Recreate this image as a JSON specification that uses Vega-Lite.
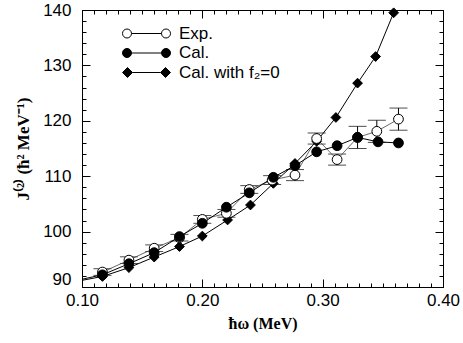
{
  "$schema": "https://vega.github.io/schema/vega-lite/v6.json",
  "width": 361,
  "height": 277,
  "autosize": "none",
  "padding": {"left": 82, "top": 10, "right": 20, "bottom": 56},
  "background": "white",
  "config": {
    "view": {"stroke": null},
    "font": "Liberation Sans",
    "axis": {
      "grid": false,
      "labelFlush": false,
      "domainColor": "black",
      "tickColor": "black",
      "labelColor": "black",
      "titleColor": "black",
      "labelFont": "Liberation Sans",
      "labelFontSize": 17,
      "titleFont": "Liberation Serif",
      "titleFontWeight": "bold",
      "titleFontSize": 16,
      "tickWidth": 1,
      "domainWidth": 1
    }
  },
  "datasets": {
    "all": [
      {"series": "Cal. with f₂=0", "x": 0.100, "y": 91.2},
      {"series": "Cal. with f₂=0", "x": 0.117, "y": 91.9},
      {"series": "Cal. with f₂=0", "x": 0.139, "y": 93.5},
      {"series": "Cal. with f₂=0", "x": 0.160, "y": 95.4},
      {"series": "Cal. with f₂=0", "x": 0.181, "y": 97.3},
      {"series": "Cal. with f₂=0", "x": 0.200, "y": 99.2},
      {"series": "Cal. with f₂=0", "x": 0.221, "y": 102.1},
      {"series": "Cal. with f₂=0", "x": 0.240, "y": 104.8},
      {"series": "Cal. with f₂=0", "x": 0.259, "y": 108.7},
      {"series": "Cal. with f₂=0", "x": 0.277, "y": 112.3},
      {"series": "Cal. with f₂=0", "x": 0.295, "y": 116.3},
      {"series": "Cal. with f₂=0", "x": 0.311, "y": 120.6},
      {"series": "Cal. with f₂=0", "x": 0.329, "y": 126.8},
      {"series": "Cal. with f₂=0", "x": 0.344, "y": 131.6},
      {"series": "Cal. with f₂=0", "x": 0.359, "y": 139.5},
      {"series": "Exp.", "x": 0.117, "y": 92.7, "err": 0.6},
      {"series": "Exp.", "x": 0.139, "y": 94.85, "err": 0.6},
      {"series": "Exp.", "x": 0.160, "y": 97.0, "err": 0.6},
      {"series": "Exp.", "x": 0.181, "y": 98.9, "err": 0.6},
      {"series": "Exp.", "x": 0.200, "y": 102.2, "err": 0.7},
      {"series": "Exp.", "x": 0.220, "y": 103.3, "err": 0.7},
      {"series": "Exp.", "x": 0.239, "y": 107.6, "err": 0.7},
      {"series": "Exp.", "x": 0.258, "y": 109.3, "err": 0.8},
      {"series": "Exp.", "x": 0.277, "y": 110.2, "err": 1.0},
      {"series": "Exp.", "x": 0.295, "y": 116.8, "err": 1.0},
      {"series": "Exp.", "x": 0.312, "y": 113.0, "err": 1.0},
      {"series": "Exp.", "x": 0.329, "y": 117.0, "err": 2.0},
      {"series": "Exp.", "x": 0.345, "y": 118.1, "err": 2.0},
      {"series": "Exp.", "x": 0.363, "y": 120.3, "err": 2.0},
      {"series": "Cal.", "x": 0.100, "y": 91.4},
      {"series": "Cal.", "x": 0.117, "y": 92.2},
      {"series": "Cal.", "x": 0.139, "y": 94.2},
      {"series": "Cal.", "x": 0.160, "y": 96.2},
      {"series": "Cal.", "x": 0.181, "y": 99.1},
      {"series": "Cal.", "x": 0.200, "y": 101.5},
      {"series": "Cal.", "x": 0.220, "y": 104.4},
      {"series": "Cal.", "x": 0.239, "y": 107.0},
      {"series": "Cal.", "x": 0.259, "y": 109.8},
      {"series": "Cal.", "x": 0.277, "y": 111.9},
      {"series": "Cal.", "x": 0.295, "y": 114.4},
      {"series": "Cal.", "x": 0.312, "y": 115.5},
      {"series": "Cal.", "x": 0.329, "y": 117.0},
      {"series": "Cal.", "x": 0.346, "y": 116.2},
      {"series": "Cal.", "x": 0.363, "y": 116.0}
    ]
  },
  "data": {"name": "all"},
  "resolve": {
    "axis": {"x": "independent", "y": "independent"},
    "scale": {"shape": "independent", "fill": "independent", "size": "independent"}
  },
  "layer": [
    {
      "transform": [{"filter": "datum.series === 'Cal. with f₂=0'"}],
      "mark": {"type": "line", "color": "black", "strokeWidth": 1},
      "encoding": {
        "x": {"field": "x", "type": "quantitative", "scale": {"domain": [0.1, 0.4], "nice": false, "zero": false},
          "axis": {"orient": "bottom", "values": [0.1, 0.2, 0.3, 0.4], "format": ".2f", "tickSize": -8, "labelPadding": 13,
            "title": "ħω  (MeV)", "titlePadding": 7}},
        "y": {"field": "y", "type": "quantitative", "scale": {"domain": [90, 140], "nice": false, "zero": false},
          "axis": {"orient": "left", "values": [90, 100, 110, 120, 130, 140], "tickSize": -8, "labelPadding": 19,
            "labelOffset": {"condition": {"test": "datum.value < 95", "value": -8}, "value": 0},
            "title": "J⁽²⁾ (ħ² MeV⁻¹)", "titleFontSize": 17, "titlePadding": 10}}
      }
    },
    {
      "transform": [{"filter": "datum.series === 'Exp.'"}],
      "mark": {"type": "errorbar", "color": "black", "thickness": 1, "ticks": {"size": 18, "color": "black", "thickness": 1}},
      "encoding": {
        "x": {"field": "x", "type": "quantitative", "scale": {"domain": [0.1, 0.4], "nice": false, "zero": false},
          "axis": {"orient": "bottom", "values": [0.1, 0.11, 0.12, 0.13, 0.14, 0.15, 0.16, 0.17, 0.18, 0.19, 0.2, 0.21, 0.22, 0.23, 0.24, 0.25, 0.26, 0.27, 0.28, 0.29, 0.3, 0.31, 0.32, 0.33, 0.34, 0.35, 0.36, 0.37, 0.38, 0.39, 0.4], "tickSize": -4, "labels": false, "domain": false, "title": null}},
        "y": {"field": "y", "type": "quantitative", "scale": {"domain": [90, 140], "nice": false, "zero": false},
          "axis": {"orient": "left", "values": [90, 92, 94, 96, 98, 100, 102, 104, 106, 108, 110, 112, 114, 116, 118, 120, 122, 124, 126, 128, 130, 132, 134, 136, 138, 140], "tickSize": -4, "labels": false, "domain": false, "title": null}},
        "yError": {"field": "err"}
      }
    },
    {
      "transform": [{"filter": "datum.series === 'Exp.'"}],
      "mark": {"type": "line", "color": "#444444", "strokeWidth": 0.8},
      "encoding": {
        "x": {"field": "x", "type": "quantitative", "scale": {"domain": [0.1, 0.4], "nice": false, "zero": false},
          "axis": {"orient": "top", "values": [0.1, 0.2, 0.3, 0.4], "tickSize": -8, "labels": false, "title": null}},
        "y": {"field": "y", "type": "quantitative", "scale": {"domain": [90, 140], "nice": false, "zero": false},
          "axis": {"orient": "right", "values": [90, 100, 110, 120, 130, 140], "tickSize": -8, "labels": false, "title": null}}
      }
    },
    {
      "transform": [{"filter": "datum.series === 'Cal.'"}],
      "mark": {"type": "line", "color": "black", "strokeWidth": 1},
      "encoding": {
        "x": {"field": "x", "type": "quantitative", "scale": {"domain": [0.1, 0.4], "nice": false, "zero": false},
          "axis": {"orient": "top", "values": [0.1, 0.11, 0.12, 0.13, 0.14, 0.15, 0.16, 0.17, 0.18, 0.19, 0.2, 0.21, 0.22, 0.23, 0.24, 0.25, 0.26, 0.27, 0.28, 0.29, 0.3, 0.31, 0.32, 0.33, 0.34, 0.35, 0.36, 0.37, 0.38, 0.39, 0.4], "tickSize": -4, "labels": false, "domain": false, "title": null}},
        "y": {"field": "y", "type": "quantitative", "scale": {"domain": [90, 140], "nice": false, "zero": false},
          "axis": {"orient": "right", "values": [90, 92, 94, 96, 98, 100, 102, 104, 106, 108, 110, 112, 114, 116, 118, 120, 122, 124, 126, 128, 130, 132, 134, 136, 138, 140], "tickSize": -4, "labels": false, "domain": false, "title": null}}
      }
    },
    {
      "transform": [{"filter": "datum.x > 0.105"}],
      "mark": {"type": "point", "filled": true, "stroke": "black", "strokeWidth": 1, "opacity": 1},
      "encoding": {
        "x": {"field": "x", "type": "quantitative", "scale": {"domain": [0.1, 0.4], "nice": false, "zero": false}, "axis": null},
        "y": {"field": "y", "type": "quantitative", "scale": {"domain": [90, 140], "nice": false, "zero": false}, "axis": null},
        "shape": {"field": "series", "type": "nominal",
          "scale": {"domain": ["Exp.", "Cal.", "Cal. with f₂=0"], "range": ["circle", "circle", "diamond"]}, "legend": null},
        "fill": {"field": "series", "type": "nominal",
          "scale": {"domain": ["Exp.", "Cal.", "Cal. with f₂=0"], "range": ["white", "black", "black"]}, "legend": null},
        "size": {"field": "series", "type": "nominal",
          "scale": {"domain": ["Exp.", "Cal.", "Cal. with f₂=0"], "range": [95, 95, 85]}, "legend": null}
      }
    },
    {
      "transform": [{"filter": "datum.x < 0"}],
      "mark": {"type": "point", "filled": true, "stroke": "black", "strokeWidth": 1, "opacity": 1},
      "encoding": {
        "shape": {"field": "series", "type": "nominal",
          "scale": {"domain": ["Exp.", "Cal.", "Cal. with f₂=0"],
            "range": [
              "M-4.8,0a0.9,0.9 0 1,0 1.8,0a0.9,0.9 0 1,0 -1.8,0Z M3,0a0.9,0.9 0 1,0 1.8,0a0.9,0.9 0 1,0 -1.8,0Z M-3,0L3,0",
              "M-4.8,0a0.9,0.9 0 1,0 1.8,0a0.9,0.9 0 1,0 -1.8,0Z M3,0a0.9,0.9 0 1,0 1.8,0a0.9,0.9 0 1,0 -1.8,0Z M-3,0L3,0",
              "M-4.8,0L-3.8,-1L-2.8,0L-3.8,1Z M2.8,0L3.8,-1L4.8,0L3.8,1Z M-2.8,0L2.8,0"
            ]},
          "legend": {
            "title": null, "orient": "none", "legendX": 56, "legendY": 15, "padding": 0,
            "labelFont": "Liberation Sans", "labelFontSize": 17, "labelColor": "black",
            "labelOffset": 24, "rowPadding": 1.5, "symbolSize": 100, "symbolStrokeWidth": 1
          }},
        "fill": {"field": "series", "type": "nominal",
          "scale": {"domain": ["Exp.", "Cal.", "Cal. with f₂=0"], "range": ["white", "black", "black"]}}
      }
    }
  ]
}
